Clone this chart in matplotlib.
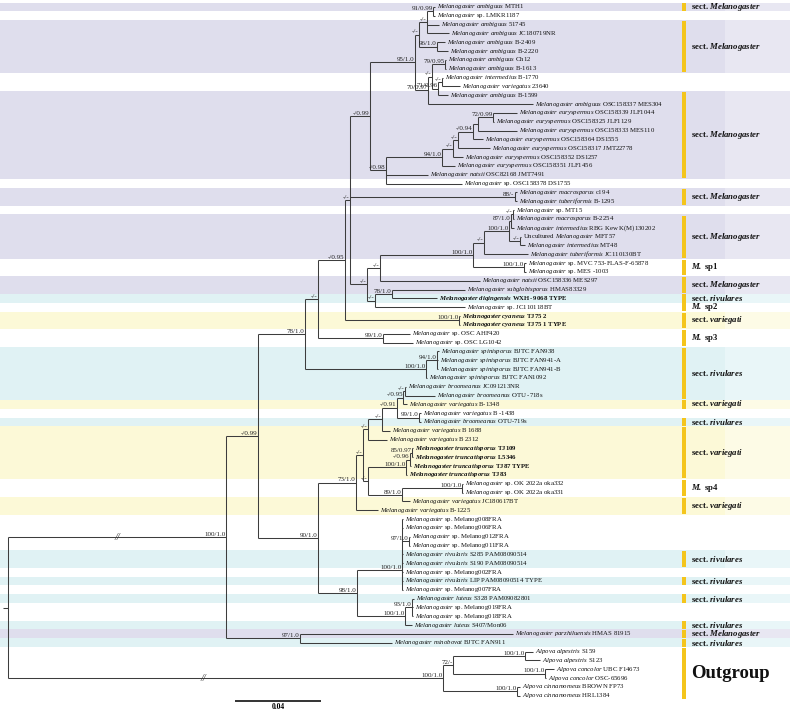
import re
import matplotlib
matplotlib.use("Agg")
import matplotlib.pyplot as plt
from matplotlib.collections import LineCollection
from matplotlib.patches import Rectangle
import matplotlib.transforms as mtransforms

plt.rcParams['font.family'] = ['Liberation Serif', 'DejaVu Serif']
plt.rcParams['mathtext.fontset'] = 'custom'
plt.rcParams['mathtext.rm'] = 'Liberation Serif'
plt.rcParams['mathtext.it'] = 'Liberation Serif:italic'
plt.rcParams['mathtext.bf'] = 'Liberation Serif:bold'
plt.rcParams['mathtext.bfit'] = 'Liberation Serif:italic:bold'

# tip labels, top to bottom (*...* = italic part)
tip_labels = [
    "*Melanogaster ambiguus* MTH1", "*Melanogaster* sp. LMKR1187",
    "*Melanogaster ambiguus* 51745", "*Melanogaster ambiguus* JC180719NR",
    "*Melanogaster ambiguus* B-2409", "*Melanogaster ambiguus* B-2220",
    "*Melanogaster ambiguus* Ch12", "*Melanogaster ambiguus* B-1613",
    "*Melanogaster intermedius* B-1770", "*Melanogaster variegatus* 23640",
    "*Melanogaster ambiguus* B-1599", "*Melanogaster ambiguus* OSC158337 MES304",
    "*Melanogaster euryspermus* OSC158339 JLF1044", "*Melanogaster euryspermus* OSC158325 JLF1129",
    "*Melanogaster euryspermus* OSC158333 MES110", "*Melanogaster euryspermus* OSC158364 DS1555",
    "*Melanogaster euryspermus* OSC158317 JMT22778", "*Melanogaster euryspermus* OSC158352 DS1257",
    "*Melanogaster euryspermus* OSC158351 JLF1456", "*Melanogaster natsii* OSC82168 JMT7491",
    "*Melanogaster* sp. OSC158378 DS1755", "*Melanogaster macrosporus* cl 94",
    "*Melanogaster tuberiformis* B-1295", "*Melanogaster* sp. MT15",
    "*Melanogaster macrosporus* B-2254", "*Melanogaster intermedius* RBG Kew K(M)130202",
    "Uncultured *Melanogaster* MFT57", "*Melanogaster intermedius* MT48",
    "*Melanogaster tuberiformis* JC110130BT", "*Melanogaster* sp. MVC 753-FLAS-F-65878",
    "*Melanogaster* sp. MES -1003", "*Melanogaster natsii* OSC158336 MES297",
    "*Melanogaster subglobisporus* HMAS83329", "*Melanogaster diqingensis* WXH- 9068 TYPE",
    "*Melanogaster* sp. JC110118BT", "*Melanogaster cyaneus* TJ75 2",
    "*Melanogaster cyaneus* TJ75 1 TYPE", "*Melanogaster* sp. OSC AHF420",
    "*Melanogaster* sp. OSC LG1042", "*Melanogaster spinisporus* BJTC FAN938",
    "*Melanogaster spinisporus* BJTC FAN941-A", "*Melanogaster spinisporus* BJTC FAN941-B",
    "*Melanogaster spinisporus* BJTC FAN1092", "*Melanogaster broomeanus* JC091213NR",
    "*Melanogaster broomeanus* OTU -718s", "*Melanogaster variegatus* B-1348",
    "*Melanogaster variegatus* B -1438", "*Melanogaster broomeanus* OTU-719s",
    "*Melanogaster variegatus* B 1688", "*Melanogaster variegatus* B 2312",
    "*Melanogaster truncatisporus* TJ109", "*Melanogaster truncatisporus* L5346",
    "*Melanogaster truncatisporus* TJ87 TYPE", "*Melanogaster truncatisporus* TJ83",
    "*Melanogaster* sp. OK 2022a oka332", "*Melanogaster* sp. OK 2022a oka331",
    "*Melanogaster variegatus* JC180617BT", "*Melanogaster variegatus* B-1225",
    "*Melanogaster* sp. Melanog008FRA", "*Melanogaster* sp. Melanog006FRA",
    "*Melanogaster* sp. Melanog012FRA", "*Melanogaster* sp. Melanog011FRA",
    "*Melanogaster rivularis* S285 PAM08090514", "*Melanogaster rivularis* S190 PAM08090514",
    "*Melanogaster* sp. Melanog002FRA", "*Melanogaster rivularis* LIP PAM08090514 TYPE",
    "*Melanogaster* sp. Melanog007FRA", "*Melanogaster luteus* S328 PAM09082801",
    "*Melanogaster* sp. Melanog019FRA", "*Melanogaster* sp. Melanog018FRA",
    "*Melanogaster luteus* S407/Mon06", "*Melanogaster parzhiluensis* HMAS 81915",
    "*Melanogaster minobovat* BJTC FAN911", "*Alpova alpestris* S159",
    "*Alpova alpestris* S123", "*Alpova concolor* UBC F14673",
    "*Alpova concolor* OSC-65696", "*Alpova cinnamomeus* BROWN FP73",
    "*Alpova cinnamomeus* HRL1384",
]
bold_tips = [33, 35, 36, 50, 51, 52, 53]

# tree pieces (tip tN = tip_labels[N]); internal labels = ML bootstrap / posterior
ambiguus = ("((((t0:0.0009,t1:0.0009)91/0.99:0.0028,t2:0.0056,t3:0.0102)-/-:0.0037,"
            "(t4:0.0037,t5:0.0051)96/1.0:0.0084)-/-:0.0019,"
            "(((t6:0.0005,t7:0.0005)79/0.95:0.0060,((t8:0.0005,t9:0.0084)-/-:0.0019,t10:0.0047)71/0.96:0.0028)-/-:0.0019,"
            "t11:0.0488)70/0.97:0.0060)95/1.0:0.0209")
euryspermus = ("(((((((t12:0.0112,t13:0.0005)72/0.99:0.0070,t14:0.0181):0.0023,t15:0.0047)-/0.94:0.0070,"
               "t16:0.0149)-/-:0.0023,t17:0.0047)-/-:0.0051,t18:0.0060)94/1.0:0.0260,"
               "t19:0.0195,t20:0.0353)-/0.98:0.0074")
macrosporus = "(t21:0.0009,t22:0.0009)88/-:0.0767"
intermedius = ("(((((((t23:0.0005,t24:0.0005)-/-:0.0009,t25:0.0014)87/1.0:0.0009,"
               "(t26:0.0005,t27:0.0023)-/-:0.0051)100/1.0:0.0116,t28:0.0205)-/-:0.0051,"
               "(t29:0.0009,t30:0.0009)100/1.0:0.0237)100/1.0:0.0432,t31:0.0465)-/-:0.0060,"
               "((t32:0.0339,t33:0.0209)78/1.0:0.0079,t34:0.0419)-/-:0.0037)-/-:0.0079")
spinisporus = "((t39:0.0009,t40:0.0005,t41:0.0005)94/1.0:0.0051,t42:0.0005)100/1.0:0.0563"
upper = ("(((((" + ambiguus + "," + euryspermus + ")-/0.99:0.0093," + macrosporus + "," + intermedius +
         ")-/-:0.0023,(t35:0.0005,t36:0.0005)100/1.0:0.0530)-/0.95:0.0126,"
         "(t37:0.0126,t38:0.0140)99/1.0:0.0302)-/-:0.0060," + spinisporus + ")78/1.0:0.0219")
variegati = ("(((((((t43:0.0005,t44:0.0140)-/-:0.0009,t45:0.0019)-/0.95:0.0028,"
             "(t46:0.0009,t47:0.0009)99/1.0:0.0102)-/0.91:0.0070,t48:0.0037)-/-:0.0065,t49:0.0088)-/-:0.0023,"
             "((((t50:0.0005,t51:0.0005)85/0.97:0.0009,t52:0.0005)-/0.96:0.0019,t53:0.0005)100/1.0:0.0177,"
             "((t54:0.0005,t55:0.0005)100/1.0:0.0279,t56:0.0037)89/1.0:0.0158)-/-:0.0023)-/-:0.0033,"
             "t57:0.0102)73/1.0:0.0177")
rivulares = ("(((t58:0.0005,t59:0.0005,(t60:0.0005,t61:0.0005)97/1.0:0.0033,t62:0.0005,t63:0.0005,"
             "t64:0.0005,t65:0.0005):0,t66:0.0005)100/1.0:0.0209,"
             "((t67:0.0009,t68:0.0005,t69:0.0005)93/1.0:0.0033,t70:0.0033)100/1.0:0.0223)98/1.0:0.0181")
ingroup = ("((" + upper + ",(" + variegati + "," + rivulares + ")90/1.0:0.0279)-/0.99:0.0149,"
           "(t71:0.0990,t72:0.0428)97/1.0:0.0344)100/1.0:0.1014")
outgroup = ("(((t73:0.0037,t74:0.0070)100/1.0:0.0335,(t75:0.0042,t76:0.0005)100/1.0:0.0428)72/-:0.0047,"
            "(t77:0.0014,t78:0.0014)100/1.0:0.0344)100/1.0:0.2023")
newick = "(" + ingroup + "," + outgroup + ");"
broken_branches = {"ingroup": 0.5, "outgroup": 0.45}

# section bands: first tip, last tip, kind
sec_first = [0, 2, 10, 21, 24, 29, 31, 33, 34, 35, 37, 39, 45, 47, 48, 54, 56, 62, 65, 67, 70, 71, 72, 73]
sec_last = [0, 7, 19, 22, 28, 30, 32, 33, 34, 36, 38, 44, 45, 47, 53, 55, 57, 63, 65, 67, 70, 71, 72, 78]
sec_kind = ['mel', 'mel', 'mel', 'mel', 'mel', 'sp1', 'mel', 'riv', 'sp2', 'var', 'sp3', 'riv', 'var',
            'riv', 'var', 'sp4', 'var', 'riv', 'riv', 'riv', 'riv', 'mel', 'riv', 'out']
band_colors = {'mel': ('#dfdeed', '#e8e7f2'), 'riv': ('#e0f2f4', '#e9f6f8'), 'var': ('#fcf9d7', '#fdfbe6')}
sec_text = {'mel': r"sect. $\mathbfit{Melanogaster}$", 'riv': r"sect. $\mathbfit{rivulares}$",
            'var': r"sect. $\mathbfit{variegati}$", 'sp1': r"$\mathbfit{M.}$ sp1",
            'sp2': r"$\mathbfit{M.}$ sp2", 'sp3': r"$\mathbfit{M.}$ sp3", 'sp4': r"$\mathbfit{M.}$ sp4",
            'out': "Outgroup"}
scale_len = 0.04


def parse(s):
    s = re.sub(r"\s", "", s)
    pos = 0

    def node():
        nonlocal pos
        n = {'children': [], 'label': '', 'length': 0.0}
        if s[pos] == '(':
            pos += 1
            while True:
                n['children'].append(node())
                if s[pos] == ',':
                    pos += 1
                    continue
                pos += 1
                break
        start = pos
        while s[pos] not in ':,);':
            pos += 1
        n['label'] = s[start:pos]
        if s[pos] == ':':
            pos += 1
            start = pos
            while s[pos] not in ',);':
                pos += 1
            n['length'] = float(s[start:pos])
        return n
    return node()


def layout(n, x0):
    n['x'] = x0 + n['length']
    if n['children']:
        for c in n['children']:
            layout(c, n['x'])
        n['y'] = (n['children'][0]['y'] + n['children'][-1]['y']) / 2
    else:
        n['y'] = int(n['label'][1:])


tree = parse(newick)
tree['length'] = 0.0
layout(tree, 0.0)

fig = plt.figure(figsize=(7.9, 7.11), dpi=100)
ax = fig.add_axes([0, 0, 1, 1])
ax.set_xlim(-0.0037, 0.3637)
ax.set_ylim(79.73, -0.79)
ax.axis('off')
trans = mtransforms.blended_transform_factory(ax.transAxes, ax.transData)

# bands, bars, section labels
for f, l, k in zip(sec_first, sec_last, sec_kind):
    if k in band_colors:
        c1, c2 = band_colors[k]
        ax.axhspan(f - 0.5, l + 0.5, xmin=0, xmax=725 / 790, color=c1, lw=0, zorder=0)
        ax.axhspan(f - 0.5, l + 0.5, xmin=725 / 790, xmax=1, color=c2, lw=0, zorder=0)
    inset = 0.12 if l > f else 0.02
    ax.add_patch(Rectangle((0.8633, f - 0.5 + inset), 0.0051, l - f + 1 - 2 * inset,
                           transform=trans, color='#f4c51c', lw=0, zorder=1))
    big = k == 'out'
    ax.text(0.8747, (f + l) / 2, sec_text[k], transform=trans, ha='left', va='center',
            fontsize=13.5 if big else 6.3, fontweight='bold', color='#111111', zorder=3)

# branches
segs = []


def collect(n):
    for c in n['children']:
        segs.append([(n['x'], c['y']), (c['x'], c['y'])])
        collect(c)
    if n['children']:
        segs.append([(n['x'], n['children'][0]['y']), (n['x'], n['children'][-1]['y'])])


collect(tree)
segs.append([(tree['x'] - 0.0023, tree['y']), (tree['x'], tree['y'])])
ax.add_collection(LineCollection(segs, colors='#3d3d3d', linewidths=0.75, zorder=2))

# break marks on the two long basal branches
for c, frac in zip(tree['children'], broken_branches.values()):
    ax.text(tree['x'] + frac * c['length'], c['y'], "//", ha='center', va='center',
            fontsize=7.5, fontstyle='italic', color='#3d3d3d', zorder=3)


def fmt(label, bold):
    parts = label.split('*')
    out = ''
    for i, p in enumerate(parts):
        if i % 2:
            out += r"$\math%s{%s}$" % ('bfit' if bold else 'it', p.replace(' ', r'\ '))
        else:
            out += p
    return out


def draw_labels(n):
    if n['children']:
        if n['label']:
            ax.annotate(n['label'], (n['x'], n['y']), xytext=(-0.3, 0.2), textcoords='offset points',
                        ha='right', va='bottom', fontsize=5, color='#222222', zorder=3)
        for c in n['children']:
            draw_labels(c)
    else:
        i = n['y']
        bold = i in bold_tips
        ax.annotate(fmt(tip_labels[i], bold), (n['x'], i), xytext=(1.5, 0), textcoords='offset points',
                    ha='left', va='center', fontsize=4.9, fontweight='bold' if bold else 'normal',
                    color='#111111', zorder=3)


draw_labels(tree)

# scale bar
ax.plot([0.1056, 0.1056 + scale_len], [78.6, 78.6], color='#111111', lw=1.2, solid_capstyle='butt')
ax.annotate(f"{scale_len:.2f}", (0.1056 + scale_len / 2, 78.6), xytext=(0, -1.2), textcoords='offset points',
            ha='center', va='top', fontsize=5.5, fontweight='bold')

fig.savefig("out.png", dpi=100)
